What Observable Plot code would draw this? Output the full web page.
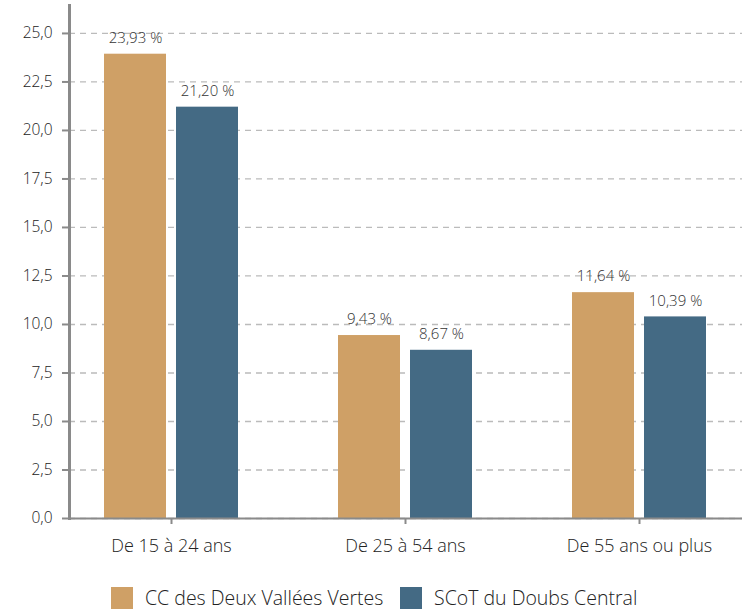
<!DOCTYPE html>
<html><head><meta charset="utf-8">
<script src="https://cdn.jsdelivr.net/npm/d3@7"></script>
<script src="https://cdn.jsdelivr.net/npm/@observablehq/plot@0.6"></script>
<style>
body{margin:0;background:#fff;font-family:"Open Sans",sans-serif;}
#legend{position:relative;height:52px;font-size:19.5px;color:#222;font-weight:300;overflow:visible;}
.item{position:absolute;top:27px;display:flex;align-items:center;line-height:22px;height:22px;}
.sw{width:22px;height:22px;margin-right:12px;}
</style></head>
<body>
<div id="chart"></div>
<div id="legend"></div>
<script>
const categories = ["De 15 à 24 ans", "De 25 à 54 ans", "De 55 ans ou plus"];
const seriesNames = ["CC des Deux Vallées Vertes", "SCoT du Doubs Central"];
const ccValues = [23.93, 9.43, 11.64];
const scotValues = [21.20, 8.67, 10.39];
const yTicks = [0, 2.5, 5, 7.5, 10, 12.5, 15, 17.5, 20, 22.5, 25];
const colors = ["#cfa066", "#446a84"];

const cc = categories.map((c, i) => ({cat: c, v: ccValues[i]}));
const scot = categories.map((c, i) => ({cat: c, v: scotValues[i]}));
const fmt = d => d.toFixed(2).replace(".", ",") + " %";

const chart = Plot.plot({
  width: 742, height: 560,
  marginLeft: 69, marginRight: 0, marginTop: 5, marginBottom: 42,
  style: {fontFamily: "'Open Sans', sans-serif", background: "#fff", fontWeight: 300},
  x: {domain: categories, range: [53, 756], padding: 0, label: null},
  y: {domain: [0, 26.44], label: null},
  marks: [
    Plot.gridY(yTicks, {stroke: "#bbb", strokeOpacity: 1, strokeDasharray: "6,5", strokeWidth: 1.3}),
    Plot.barY(cc, {x: "cat", y: "v", fill: colors[0], insetLeft: 50, insetRight: 122}),
    Plot.barY(scot, {x: "cat", y: "v", fill: colors[1], insetLeft: 122, insetRight: 50}),
    Plot.text(cc, {x: "cat", y: "v", text: d => fmt(d.v), dx: -36, dy: -16, fill: "#333", fontSize: 15}),
    Plot.text(scot, {x: "cat", y: "v", text: d => fmt(d.v), dx: 36, dy: -16, fill: "#333", fontSize: 15}),
    Plot.ruleY([0], {stroke: "#8a8a8a", strokeWidth: 2}),
    Plot.frame({anchor: "left", stroke: "#8a8a8a", strokeWidth: 3}),
    Plot.axisY({ticks: yTicks, tickFormat: d => d.toFixed(1).replace(".", ","), tickSize: 7, tickPadding: 10, stroke: "#8a8a8a", strokeWidth: 2, fill: "#222", fontSize: 15.5, label: null}),
    Plot.axisX({tickSize: 6, tickPadding: 15, stroke: "#8a8a8a", strokeWidth: 2, fill: "#222", fontSize: 18, label: null})
  ]
});
document.getElementById("chart").appendChild(chart);

const legend = document.getElementById("legend");
const lx = [111, 400];
seriesNames.forEach((n, i) => {
  const it = document.createElement("div");
  it.className = "item";
  it.style.left = lx[i] + "px";
  it.innerHTML = `<span class="sw" style="background:${colors[i]}"></span><span>${n}</span>`;
  legend.appendChild(it);
});
</script>
</body></html>
